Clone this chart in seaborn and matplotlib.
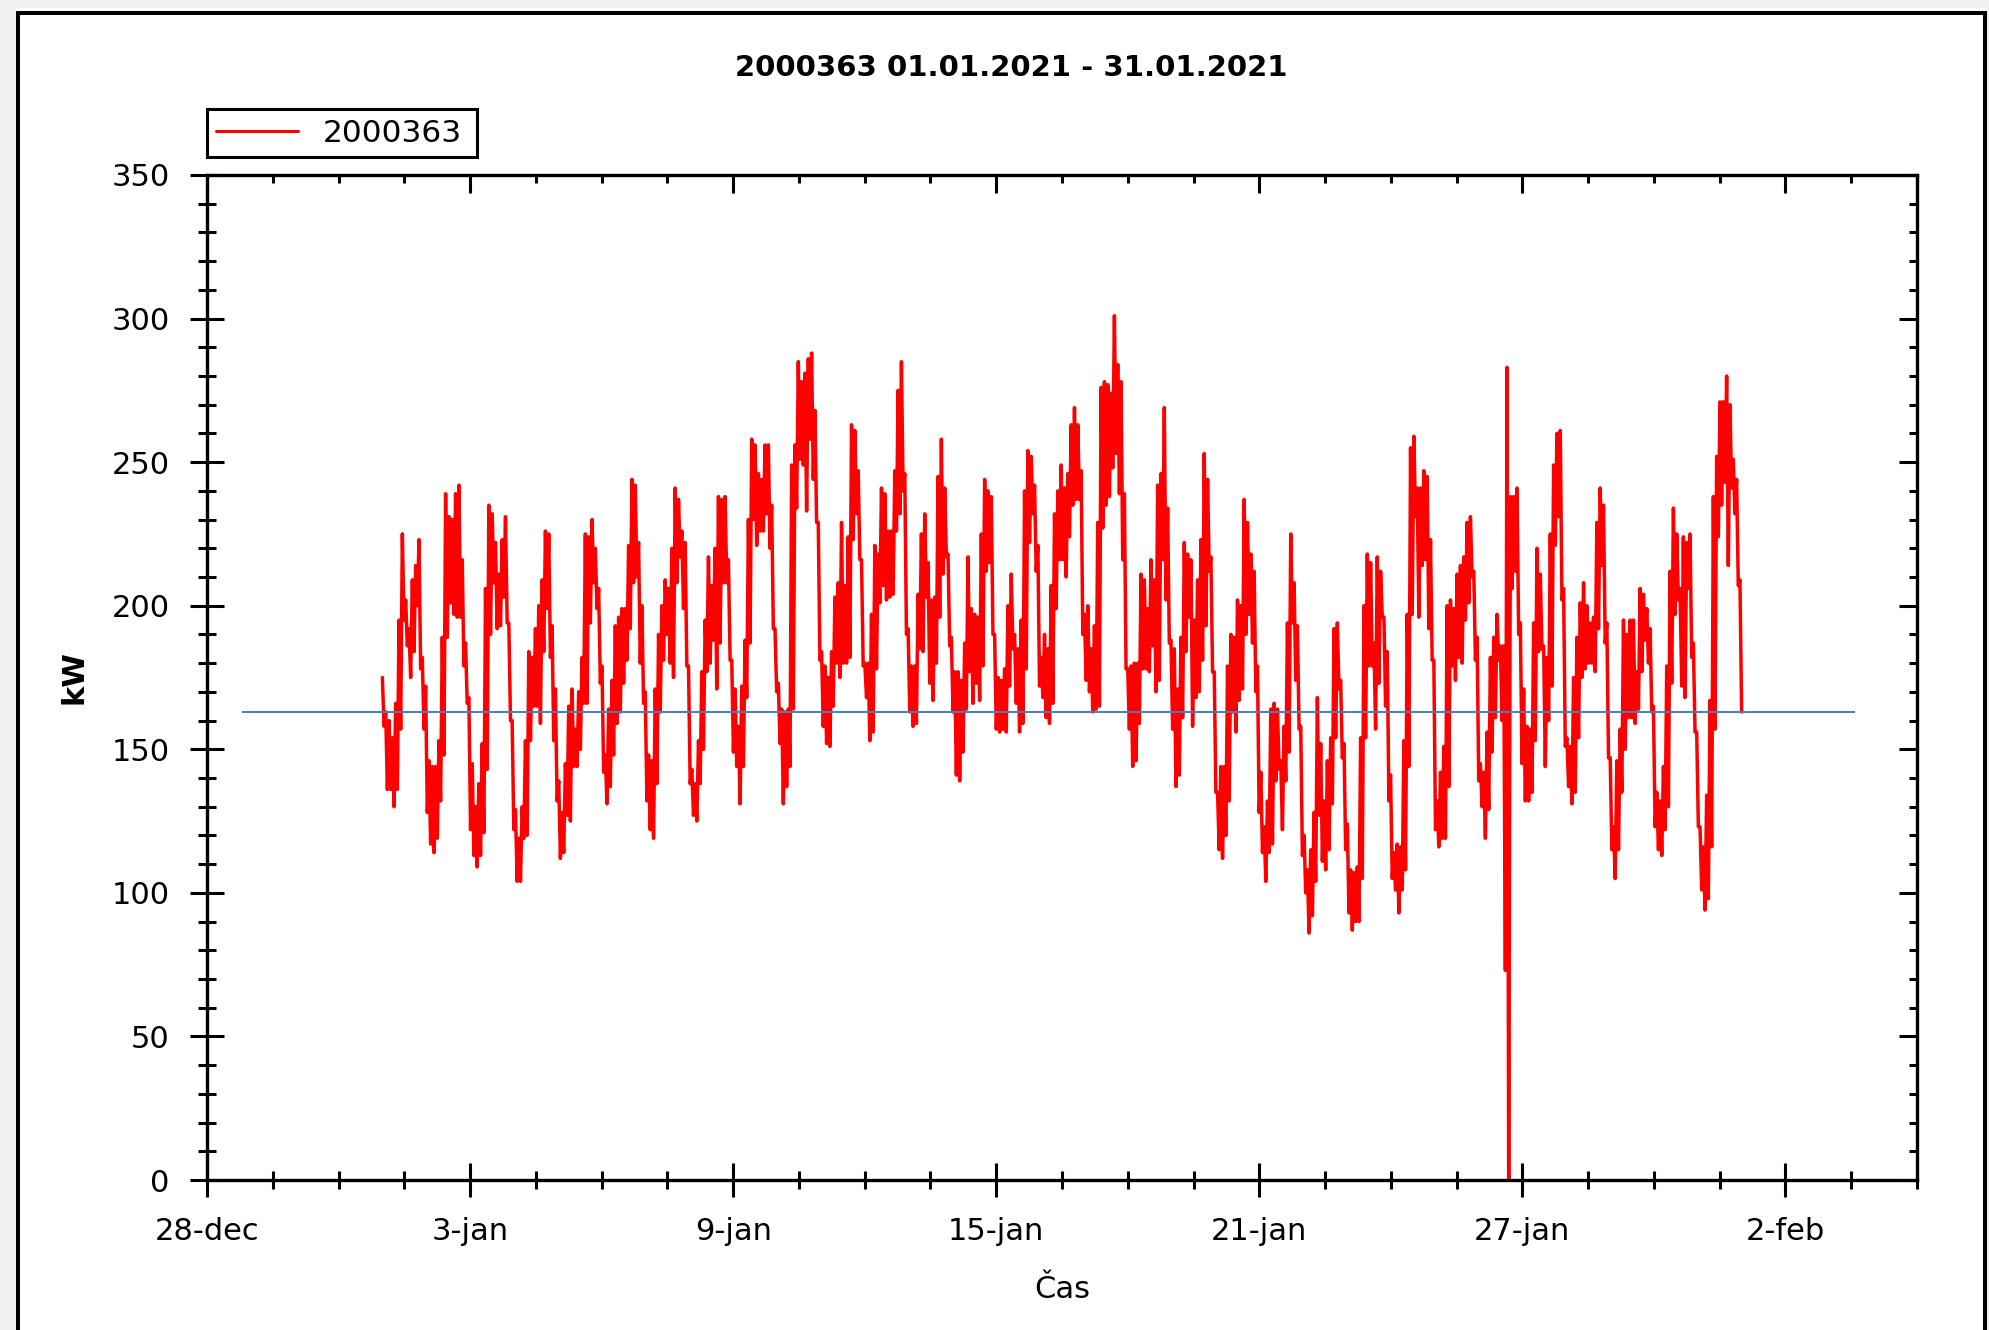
import numpy as np
import pandas as pd
import matplotlib
matplotlib.use("Agg")
import matplotlib.pyplot as plt
import matplotlib.dates as mdates
from matplotlib.patches import Rectangle
from matplotlib.ticker import FixedLocator, MultipleLocator
import seaborn as sns

# ---------------- data ----------------
title = "2000363 01.01.2021 - 31.01.2021"
series_name = "2000363"
data_start = "2021-01-01 00:00"
data_end = "2021-02-01 00:00"

# per plotted column: upper and lower extent (kW), in time order
seg1_hi = [175,163,160,154,166,195,225,202,192,209,214,223,182,172,146,144,144,153,189,239,
           231,230,239,242,216,187,168,145,130,138,152,206,235,232,222,211,223,231,194,160,
           129,119,130,153,184,182,192,200,209,226,225,193,171,139,128,145,165,171,157,170,
           182,225,224,230,220,206,179,148,164,174,193,196,199,199,221,244,242,222,200,170,
           148,146]
seg1_lo = [158,136,136,130,136,157,195,186,175,184,200,178,157,128,117,114,119,132,148,189,
           201,197,196,196,179,166,122,113,109,113,121,143,190,208,192,193,203,194,160,122,
           104,104,119,120,153,165,165,159,184,199,182,153,132,112,114,127,125,144,144,150,
           166,166,194,208,199,173,142,131,137,148,159,163,173,181,192,208,210,180,166,132,
           122,119]
seg2_hi = [171,190,200,209,206,220,241,237,226,222,179,143,138,153,177,195,217,207,220,238,
           237,238,216,181,171,158,172,188,230,258,256,246,244,256,256,235,192,173,164,163,
           164,249,256,285,278,281,286,288,268,229,184,179,175,184,203,208,229,207,224,263,
           261,247,216,180,180,197,221,218,241,239,226,226,247,275,285,246,192,179,179,204,
           225,232]
seg2_lo = [138,163,181,190,180,175,208,217,199,179,138,127,125,138,150,177,180,188,171,187,
           208,208,181,149,144,131,144,168,187,230,221,226,226,232,220,192,170,152,131,137,
           144,164,234,251,249,233,258,244,229,181,158,152,151,165,180,175,180,180,182,223,
           232,216,179,168,153,156,178,201,207,202,203,204,226,232,240,190,163,158,159,185,
           184,203]
seg3_hi = [215,202,203,245,258,241,218,189,177,177,174,187,217,199,197,196,225,244,240,238,
           190,175,174,178,200,211,190,185,195,240,254,252,242,221,182,190,185,207,232,240,
           249,241,246,263,269,263,247,197,200,185,193,229,276,278,277,274,301,284,278,239,
           178,179,180,180,211,209,199,216,209,242,246,269,234,188,185,171,189,222,218,216,
           195,209]
seg3_lo = [173,167,180,196,211,217,186,163,141,139,149,164,177,166,173,167,179,212,215,190,
           157,156,157,156,172,185,166,156,159,178,222,232,212,172,168,161,159,166,199,216,
           216,210,224,235,237,237,190,174,170,163,164,165,227,235,238,248,253,239,216,178,
           157,144,146,159,178,178,177,186,170,174,216,202,187,157,137,141,161,184,196,158,
           168,170]
seg4_hi = [223,253,244,217,177,135,144,144,179,190,189,202,200,237,229,218,212,179,142,123,
           132,164,166,164,146,158,194,225,208,193,158,120,108,115,128,168,152,132,146,154,
           192,194,174,152,124,108,107,109,154,200,218,215,187,217,212,196,184,141,114,117,
           116,153,197,255,259,241,241,247,245,223,181,132,142,151,200,202,199,211,214,217,
           229,231]
seg4_lo = [181,193,212,177,135,115,112,120,132,163,156,167,171,190,197,187,170,128,114,104,
           114,117,139,143,122,139,149,194,174,157,113,100,86,92,104,127,111,108,115,131,
           154,171,147,115,93,87,90,90,105,154,179,179,157,173,196,165,132,105,101,93,
           101,108,144,197,231,196,214,216,192,181,122,116,119,119,137,179,174,182,180,195,
           201,210]
seg5_hi = [212,189,145,142,156,182,189,197,186,186,283,238,238,241,194,171,158,157,194,220,
           211,186,182,225,249,260,261,206,154,151,175,189,201,208,200,194,196,229,241,235,
           194,147,123,146,157,195,190,195,195,177,206,204,199,192,165,135,132,144,179,212,
           234,225,206,224,222,225,187,156,123,116,134,167,238,252,271,271,280,270,251,244,
           209]
seg5_lo = [181,139,130,119,129,149,161,181,160,73,0,206,212,190,145,132,132,135,153,184,
           185,144,160,172,221,231,202,151,137,131,135,154,175,178,180,180,177,192,214,187,
           147,115,105,115,135,150,161,161,159,164,177,188,180,163,123,115,113,122,130,173,
           197,202,172,168,206,182,156,123,101,94,98,116,157,224,235,243,214,241,232,207,
           163]

reference_kw = 163
reference_span = ("2020-12-28 19:00", "2021-02-03 14:00")

x_tick_dates = ["2020-12-28", "2021-01-03", "2021-01-09", "2021-01-15",
                "2021-01-21", "2021-01-27", "2021-02-02"]
x_tick_labels = ["28-dec", "3-jan", "9-jan", "15-jan", "21-jan", "27-jan", "2-feb"]
x_limits = ("2020-12-28", "2021-02-05")
y_ticks = [0, 50, 100, 150, 200, 250, 300, 350]

# ---------------- build series ----------------
kw_hi = seg1_hi + seg2_hi + seg3_hi + seg4_hi + seg5_hi
kw_lo = seg1_lo + seg2_lo + seg3_lo + seg4_lo + seg5_lo
kw = np.column_stack([kw_hi, kw_lo]).ravel()
times = pd.date_range(data_start, data_end, periods=len(kw))
df = pd.DataFrame({"Čas": times, "kW": kw})

# ---------------- figure ----------------
sns.set_style("white")
plt.rcParams["font.family"] = ["DejaVu Sans"]
plt.rcParams["text.color"] = "black"
plt.rcParams["axes.labelcolor"] = "black"
plt.rcParams["xtick.color"] = "black"
plt.rcParams["ytick.color"] = "black"

W, H = 1989, 1330
fig = plt.figure(figsize=(W / 100, H / 100), dpi=100)
fig.patch.set_facecolor("white")


def px_rect(x0, y0, x1, y1, color):
    fig.add_artist(Rectangle((x0 / W, 1 - y1 / H), (x1 - x0) / W, (y1 - y0) / H,
                             transform=fig.transFigure, facecolor=color,
                             edgecolor="none", zorder=0))


# window-like frame
px_rect(0, 0, W, 8, "#f0f0f0")
px_rect(0, 0, 16, H, "#f0f0f0")
px_rect(1987, 0, W, H, "#f0f0f0")
px_rect(16, 11, 1987, 15, "black")
px_rect(16, 11, 20, H, "black")
px_rect(1983, 11, 1987, H, "black")

rect = [207 / W, 1 - 1180 / H, 1710 / W, 1005 / H]
ax = fig.add_axes(rect)
sns.lineplot(data=df, x="Čas", y="kW", ax=ax, color="#ff0000", linewidth=2.5,
             estimator=None, label=series_name)
ax.hlines(reference_kw, pd.Timestamp(reference_span[0]), pd.Timestamp(reference_span[1]),
          color="#4a7cc0", linewidth=1.4, zorder=3)

ax.set_xlim(pd.Timestamp(x_limits[0]), pd.Timestamp(x_limits[1]))
ax.set_ylim(0, 350)

xt = mdates.date2num(pd.to_datetime(x_tick_dates))
ax.xaxis.set_major_locator(FixedLocator(xt))
ax.set_xticklabels(x_tick_labels)
ax.xaxis.set_minor_locator(MultipleLocator(1.5))
ax.yaxis.set_major_locator(FixedLocator(y_ticks))
ax.yaxis.set_minor_locator(MultipleLocator(10))

for s in ax.spines.values():
    s.set_visible(True)
    s.set_color("black")
    s.set_linewidth(2.4)

ax.tick_params(which="both", bottom=True, left=True, top=False, right=False,
               direction="inout", width=2.2, color="black")
ax.tick_params(which="major", length=25, labelsize=22, labelcolor="black")
ax.tick_params(axis="x", which="major", pad=14)
ax.tick_params(axis="y", which="major", pad=14.5)
ax.tick_params(which="minor", length=13)

ax.set_xlabel("Čas", fontsize=22, va="center", color="black")
ax.xaxis.set_label_coords(0.5, -0.109)
ax.set_ylabel("kW", fontsize=22, fontweight="bold", va="center", color="black")
ax.yaxis.set_label_coords(-0.0778, 0.5)

# overlay for inward ticks on top / right
ax2 = fig.add_axes(rect, frameon=False, sharex=ax, sharey=ax)
ax2.patch.set_alpha(0)
ax2.tick_params(which="both", bottom=False, left=False, top=True, right=True,
                labelbottom=False, labelleft=False, labeltop=False, labelright=False,
                direction="in", width=2.2, color="black")
ax2.tick_params(which="major", length=13)
ax2.tick_params(which="minor", length=6)
ax2.set_xlabel("")
ax2.set_ylabel("")

leg = ax.legend(loc="lower left", bbox_to_anchor=(207 / W, 1 - 157 / H, 270 / W, 49 / H),
                bbox_transform=fig.transFigure, mode="expand", borderaxespad=0,
                fancybox=False, edgecolor="black", framealpha=1, fontsize=22.5,
                handlelength=2.6, handletextpad=0.8, borderpad=0.3)
leg.get_frame().set_linewidth(2.2)
for ln in leg.get_lines():
    ln.set_linewidth(2.2)
for t in leg.get_texts():
    t.set_color("black")

fig.text(1011 / W, 1 - 68 / H, title, ha="center", va="center",
         fontsize=21, fontweight="bold", color="black")

fig.savefig("out.png", dpi=100, facecolor=fig.get_facecolor())
